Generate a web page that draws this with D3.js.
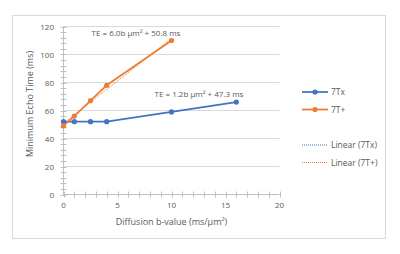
<!DOCTYPE html>
<html>
<head>
<meta charset="utf-8">
<script src="https://cdn.jsdelivr.net/npm/d3@7"></script>
<style>
  body { margin: 0; background: #fff; }
  text { font-family: "Open Sans", "Noto Sans", sans-serif; fill: #595959; }
</style>
</head>
<body>
<div id="chart"></div>
<script>
// data
const bValues7Tx = [0, 1, 2.5, 4, 10, 16];
const te7Tx = [52, 52, 52, 52, 59, 66];
const bValues7Tp = [0, 1, 2.5, 4, 10];
const te7Tp = [49, 56, 67, 78, 110];
const seriesNames = ["7Tx", "7T+"];
const trendNames = ["Linear (7Tx)", "Linear (7T+)"];
const trendLabels = ["TE = 1.2b \u03bcm\u00b2 + 47.3 ms", "TE = 6.0b \u03bcm\u00b2 + 50.8 ms"];
const xTicks = [0, 5, 10, 15, 20];
const yTicks = [0, 20, 40, 60, 80, 100, 120];

const width = 400;
const height = 254;
const colors = ["#4472C4", "#ED7D31"];

const svg = d3.select("#chart")
    .append("svg")
        .attr("width", width)
        .attr("height", height);

// outer frame
svg.append("rect")
    .attr("x", 12.5).attr("y", 15.5)
    .attr("width", 373).attr("height", 223)
    .attr("fill", "#fff")
    .attr("stroke", "#d9d9d9");

const x = d3.scaleLinear().domain([0, 20]).range([63.5, 279.5]);
const y = d3.scaleLinear().domain([0, 120]).range([194.5, 26.5]);

// gridlines
svg.append("g")
    .selectAll("line")
    .data(yTicks.filter(d => d > 0))
    .enter()
    .append("line")
        .attr("x1", x(0)).attr("x2", x(20))
        .attr("y1", d => y(d)).attr("y2", d => y(d))
        .attr("stroke", "#d9d9d9")
        .attr("stroke-width", 1);

// axes with crossing minor ticks
const axisColor = "#bfbfbf";
svg.append("line")
    .attr("x1", x(0)).attr("x2", x(0))
    .attr("y1", y(0)).attr("y2", y(120))
    .attr("stroke", axisColor);
svg.append("line")
    .attr("x1", x(0)).attr("x2", x(20))
    .attr("y1", y(0)).attr("y2", y(0))
    .attr("stroke", axisColor);

svg.append("g")
    .selectAll("line")
    .data(d3.range(0, 121, 4))
    .enter()
    .append("line")
        .attr("x1", x(0) - 3).attr("x2", x(0) + 3)
        .attr("y1", d => Math.round(y(d)) + 0.5).attr("y2", d => Math.round(y(d)) + 0.5)
        .attr("stroke", axisColor);

svg.append("g")
    .selectAll("line")
    .data(d3.range(0, 21, 1))
    .enter()
    .append("line")
        .attr("x1", d => Math.round(x(d)) + 0.5).attr("x2", d => Math.round(x(d)) + 0.5)
        .attr("y1", y(0) - 3).attr("y2", y(0) + 3)
        .attr("stroke", axisColor);

// tick labels
svg.append("g")
    .selectAll("text")
    .data(yTicks)
    .enter()
    .append("text")
        .attr("x", 54)
        .attr("y", d => y(d) + 3)
        .attr("text-anchor", "end")
        .style("font-size", "8px")
        .text(d => d);

svg.append("g")
    .selectAll("text")
    .data(xTicks)
    .enter()
    .append("text")
        .attr("x", d => x(d))
        .attr("y", 208)
        .attr("text-anchor", "middle")
        .style("font-size", "8px")
        .text(d => d);

// axis titles
svg.append("text")
    .attr("x", 171.5)
    .attr("y", 225)
    .attr("text-anchor", "middle")
    .style("font-size", "9px")
    .text("Diffusion b-value (ms/\u03bcm\u00b2)");

svg.append("text")
    .attr("transform", "translate(33, 104) rotate(-90)")
    .attr("text-anchor", "middle")
    .style("font-size", "9px")
    .text("Minimum Echo Time (ms)");

// least squares fit for the trend line
function fit(xs, ys) {
    const mx = d3.mean(xs), my = d3.mean(ys);
    const sxy = d3.sum(xs, (v, i) => (v - mx) * (ys[i] - my));
    const sxx = d3.sum(xs, v => (v - mx) * (v - mx));
    const slope = sxy / sxx;
    return { slope: slope, intercept: my - slope * mx };
}

const series = [
    { xs: bValues7Tx, ys: te7Tx },
    { xs: bValues7Tp, ys: te7Tp }
];

const line = d3.line().x(d => x(d[0])).y(d => y(d[1]));

// series lines
series.forEach((s, k) => {
    const pts = s.xs.map((v, i) => [v, s.ys[i]]);
    svg.append("path")
        .datum(pts)
        .attr("d", line)
        .attr("fill", "none")
        .attr("stroke", colors[k])
        .attr("stroke-width", 1.75);
});

// 7T+ trend line (dotted); the 7Tx one sits hidden under its series in the original
{
    const s = series[1];
    const f = fit(s.xs, s.ys);
    const x0 = d3.min(s.xs), x1 = d3.max(s.xs);
    svg.append("path")
        .datum([[x0, f.intercept + f.slope * x0], [x1, f.intercept + f.slope * x1]])
        .attr("d", line)
        .attr("fill", "none")
        .attr("stroke", colors[1])
        .attr("stroke-width", 1)
        .attr("stroke-dasharray", "1,1");
}

// markers
series.forEach((s, k) => {
    svg.append("g")
        .selectAll("circle")
        .data(s.xs.map((v, i) => [v, s.ys[i]]))
        .enter()
        .append("circle")
            .attr("cx", d => x(d[0]))
            .attr("cy", d => y(d[1]))
            .attr("r", 2.6)
            .attr("fill", colors[k]);
});

// trendline equations
svg.append("text")
    .attr("x", 136)
    .attr("y", 36)
    .attr("text-anchor", "middle")
    .style("font-size", "8px")
    .text(trendLabels[1]);

svg.append("text")
    .attr("x", 199)
    .attr("y", 97)
    .attr("text-anchor", "middle")
    .style("font-size", "8px")
    .text(trendLabels[0]);

// legend
const legend = svg.append("g");
seriesNames.forEach((name, k) => {
    const ly = 92 + k * 17.5;
    legend.append("line")
        .attr("x1", 302).attr("x2", 328)
        .attr("y1", ly).attr("y2", ly)
        .attr("stroke", colors[k])
        .attr("stroke-width", 1.75);
    legend.append("circle")
        .attr("cx", 315).attr("cy", ly).attr("r", 2.6)
        .attr("fill", colors[k]);
    legend.append("text")
        .attr("x", 331).attr("y", ly + 3)
        .style("font-size", "8.5px")
        .text(name);
});
trendNames.forEach((name, k) => {
    const ly = 145 + k * 17.5;
    legend.append("line")
        .attr("x1", 302).attr("x2", 328)
        .attr("y1", ly).attr("y2", ly)
        .attr("stroke", colors[k])
        .attr("stroke-width", 1)
        .attr("stroke-dasharray", "1,1");
    legend.append("text")
        .attr("x", 331).attr("y", ly + 3)
        .style("font-size", "8.5px")
        .text(name);
});
</script>
</body>
</html>
